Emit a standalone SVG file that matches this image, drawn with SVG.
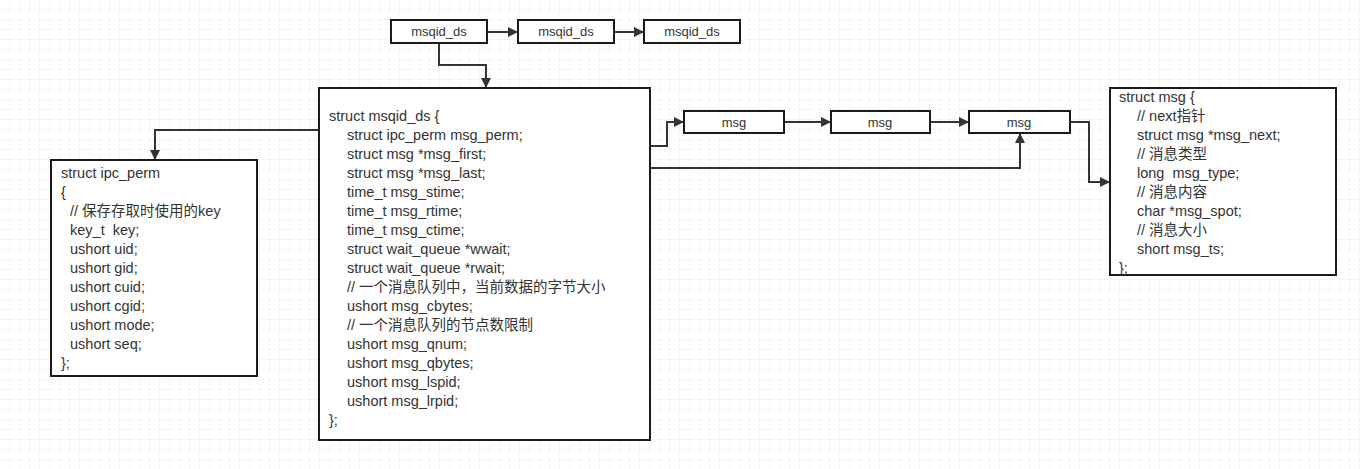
<svg xmlns="http://www.w3.org/2000/svg" width="1360" height="469" viewBox="0 0 1360 469">
<defs>
<pattern id="g" width="10" height="10" patternUnits="userSpaceOnUse"><path d="M10 0V10H0" fill="none" stroke="#ebebeb" stroke-width="1"/></pattern>
<marker id="a" markerWidth="10" markerHeight="10" refX="9" refY="5" orient="auto" markerUnits="userSpaceOnUse"><path d="M0,0L10,5L0,10Z" fill="#333"/></marker>
<style>
.b{fill:#fff;stroke:#1a1a1a;stroke-width:2}
.t{font-family:"Liberation Sans","Noto Sans CJK SC",sans-serif;font-size:14.5px;fill:#333;white-space:pre}
.s{font-size:13px}
.c{fill:none;stroke:#333;stroke-width:2;marker-end:url(#a)}
</style>
</defs>
<rect width="1360" height="469" fill="#fff"/>
<rect width="1360" height="469" fill="url(#g)"/>
<g id="connectors">
<path class="c" d="M487 32H517"/>
<path class="c" d="M614 32H643"/>
<path class="c" d="M439 43V65H486V87"/>
<path class="c" d="M319 130H155V159"/>
<path class="c" d="M650 146H667V122H683"/>
<path class="c" d="M784 122H830"/>
<path class="c" d="M930 122H968"/>
<path class="c" d="M650 168H1020V134"/>
<path class="c" d="M1070 122H1089V182H1109"/>
</g>
<g id="ds1"><rect class="b" x="391" y="20" width="96" height="23"/><text class="t s" x="439" y="36" text-anchor="middle">msqid_ds</text></g>
<g id="ds2"><rect class="b" x="518" y="20" width="96" height="23"/><text class="t s" x="566" y="36" text-anchor="middle">msqid_ds</text></g>
<g id="ds3"><rect class="b" x="644" y="20" width="96" height="23"/><text class="t s" x="692" y="36" text-anchor="middle">msqid_ds</text></g>
<g id="msg1"><rect class="b" x="684" y="111" width="100" height="22"/><text class="t s" x="734" y="127" text-anchor="middle">msg</text></g>
<g id="msg2"><rect class="b" x="831" y="111" width="99" height="22"/><text class="t s" x="880" y="127" text-anchor="middle">msg</text></g>
<g id="msg3"><rect class="b" x="969" y="111" width="101" height="22"/><text class="t s" x="1019" y="127" text-anchor="middle">msg</text></g>
<g id="main"><rect class="b" x="319" y="88" width="331" height="352"/>
<text class="t"><tspan x="329" y="121">struct msqid_ds {</tspan><tspan x="347" y="140">struct ipc_perm msg_perm;</tspan><tspan x="347" y="159">struct msg *msg_first;</tspan><tspan x="347" y="178">struct msg *msg_last;</tspan><tspan x="347" y="197">time_t msg_stime;</tspan><tspan x="347" y="216">time_t msg_rtime;</tspan><tspan x="347" y="235">time_t msg_ctime;</tspan><tspan x="347" y="254">struct wait_queue *wwait;</tspan><tspan x="347" y="273">struct wait_queue *rwait;</tspan><tspan x="347" y="292">// 一个消息队列中，当前数据的字节大小</tspan><tspan x="347" y="311">ushort msg_cbytes;</tspan><tspan x="347" y="330">// 一个消息队列的节点数限制</tspan><tspan x="347" y="349">ushort msg_qnum;</tspan><tspan x="347" y="368">ushort msg_qbytes;</tspan><tspan x="347" y="387">ushort msg_lspid;</tspan><tspan x="347" y="406">ushort msg_lrpid;</tspan><tspan x="329" y="425">};</tspan></text></g>
<g id="ipc"><rect class="b" x="51" y="160" width="206" height="216"/>
<text class="t"><tspan x="61" y="178">struct ipc_perm</tspan><tspan x="61" y="197">{</tspan><tspan x="70" y="216">// 保存存取时使用的key</tspan><tspan x="70" y="235">key_t  key;</tspan><tspan x="70" y="254">ushort uid;</tspan><tspan x="70" y="273">ushort gid;</tspan><tspan x="70" y="292">ushort cuid;</tspan><tspan x="70" y="311">ushort cgid;</tspan><tspan x="70" y="330">ushort mode;</tspan><tspan x="70" y="349">ushort seq;</tspan><tspan x="61" y="368">};</tspan></text></g>
<g id="msg"><rect class="b" x="1110" y="88" width="226" height="187"/>
<text class="t"><tspan x="1119" y="102">struct msg {</tspan><tspan x="1137" y="121">// next指针</tspan><tspan x="1137" y="140">struct msg *msg_next;</tspan><tspan x="1137" y="159">// 消息类型</tspan><tspan x="1137" y="178">long  msg_type;</tspan><tspan x="1137" y="197">// 消息内容</tspan><tspan x="1137" y="216">char *msg_spot;</tspan><tspan x="1137" y="235">// 消息大小</tspan><tspan x="1137" y="254">short msg_ts;</tspan><tspan x="1119" y="273">};</tspan></text></g>
</svg>
